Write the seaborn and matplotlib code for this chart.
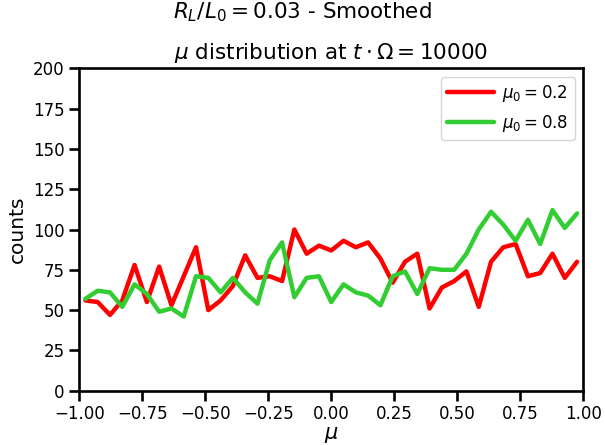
import numpy as np
import pandas as pd
import matplotlib
matplotlib.use("Agg")
import matplotlib.pyplot as plt
import seaborn as sns

# bin centres of mu (41 bins on [-1, 1])
mu = [-0.9756, -0.9268, -0.8780, -0.8293, -0.7805, -0.7317, -0.6829, -0.6341,
      -0.5854, -0.5366, -0.4878, -0.4390, -0.3902, -0.3415, -0.2927, -0.2439,
      -0.1951, -0.1463, -0.0976, -0.0488, 0.0, 0.0488, 0.0976, 0.1463,
      0.1951, 0.2439, 0.2927, 0.3415, 0.3902, 0.4390, 0.4878, 0.5366,
      0.5854, 0.6341, 0.6829, 0.7317, 0.7805, 0.8293, 0.8780, 0.9268, 0.9756]

counts_mu02 = [56, 55, 47, 56, 78, 55, 77, 53, 71, 89, 50, 56, 65, 84, 70, 71,
               68, 100, 85, 90, 87, 93, 89, 92, 82, 67, 80, 85, 51, 64, 68, 74,
               52, 80, 89, 91, 71, 73, 85, 70, 80]
counts_mu08 = [57, 62, 61, 52, 66, 60, 49, 51, 46, 71, 70, 61, 70, 61, 54, 81,
               92, 58, 70, 71, 55, 66, 61, 59, 53, 71, 74, 60, 76, 75, 75, 85,
               100, 111, 103, 93, 106, 91, 112, 101, 110]

labels = [r"$\mu_0 = 0.2$", r"$\mu_0 = 0.8$"]
colors = ["#ff0000", "#32cd32"]

x_ticks = [-1.0, -0.75, -0.5, -0.25, 0.0, 0.25, 0.5, 0.75, 1.0]
y_ticks = [0, 25, 50, 75, 100, 125, 150, 175, 200]

sns.set_theme(style="ticks")
plt.rcParams.update({
    "font.family": ["DejaVu Sans"],
    "axes.linewidth": 1.9,
    "xtick.major.size": 7,
    "ytick.major.size": 7,
    "xtick.major.width": 1.9,
    "ytick.major.width": 1.9,
    "xtick.labelsize": 12,
    "ytick.labelsize": 12,
    "axes.edgecolor": "black",
    "xtick.color": "black",
    "ytick.color": "black",
    "text.color": "black",
    "axes.labelcolor": "black",
})

df = pd.concat([
    pd.DataFrame({"mu": mu, "counts": counts_mu02, "series": labels[0]}),
    pd.DataFrame({"mu": mu, "counts": counts_mu08, "series": labels[1]}),
])

fig = plt.figure(figsize=(6.05, 4.45), dpi=100)
ax = fig.add_axes([0.131, 0.122, 0.833, 0.7245])
sns.lineplot(data=df, x="mu", y="counts", hue="series", palette=colors,
             linewidth=3.2, ax=ax)

ax.set_xlim(-1, 1)
ax.set_ylim(0, 200)
ax.set_xticks(x_ticks)
ax.set_yticks(y_ticks)
ax.set_xticklabels([f"{v:.2f}".replace("-", "\u2212") for v in x_ticks])
ax.set_xlabel(r"$\mu$", fontsize=15, labelpad=1)
ax.set_ylabel("counts", fontsize=14.5)
ax.set_title(r"$\mu$ distribution at $t \cdot \Omega = 10000$", fontsize=15.5, pad=7)
fig.suptitle(r"$R_L/L_0 = 0.03$ - Smoothed", fontsize=15.5, y=1.0)

leg = ax.legend(loc="upper right", fontsize=12, handlelength=2.8,
                handletextpad=0.5, frameon=True)
leg.set_title(None)

fig.savefig("out.png", dpi=100)
